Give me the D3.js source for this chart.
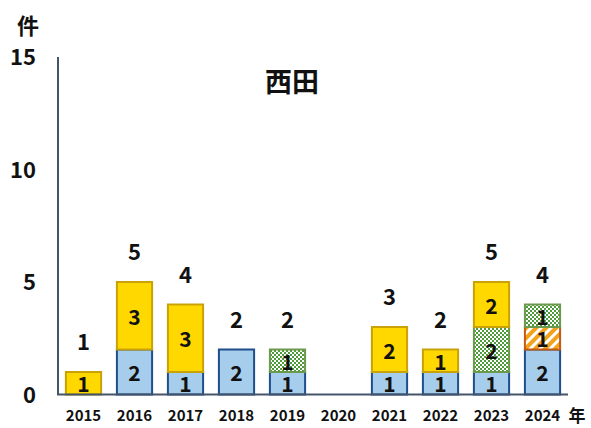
<!DOCTYPE html>
<html><head><meta charset="utf-8">
<script src="https://cdn.jsdelivr.net/npm/d3@7"></script>
<style>body{margin:0;background:#fff}svg{display:block}text{font-family:"Noto Sans CJK JP","Noto Sans",sans-serif;font-weight:bold;fill:#111}</style>
</head><body><svg id="c" width="591" height="428"></svg>
<script>
const years = ["2015","2016","2017","2018","2019","2020","2021","2022","2023","2024"];
const blue   = [0,2,1,2,1,0,1,1,1,2];
const orange = [0,0,0,0,0,0,0,0,0,1];
const green  = [0,0,0,0,1,0,0,0,2,1];
const yellow = [1,3,3,0,0,0,2,1,2,0];
const yTicks = [0,5,10,15];
const title = "西田";

const svg = d3.select("#c");
const defs = svg.append("defs");
const chk = defs.append("pattern").attr("id","chk").attr("width",4).attr("height",4).attr("patternUnits","userSpaceOnUse");
chk.append("rect").attr("width",4).attr("height",4).attr("fill","#fff");
chk.append("rect").attr("width",2).attr("height",2).attr("fill","#4f9a3a");
chk.append("rect").attr("x",2).attr("y",2).attr("width",2).attr("height",2).attr("fill","#4f9a3a");
const str = defs.append("pattern").attr("id","str").attr("width",7).attr("height",7).attr("patternUnits","userSpaceOnUse").attr("patternTransform","rotate(45)");
str.append("rect").attr("width",7).attr("height",7).attr("fill","#fff");
str.append("rect").attr("width",4).attr("height",7).attr("fill","#f2a21c");

const series = [
  {key:"blue", vals:blue, fill:"#a7cdec", stroke:"#1f4e8a"},
  {key:"orange", vals:orange, fill:"url(#str)", stroke:"#c55a11"},
  {key:"green", vals:green, fill:"url(#chk)", stroke:"#6c9a4c"},
  {key:"yellow", vals:yellow, fill:"#ffd800", stroke:"#c9a208"}
];
const rows = years.map((y,i)=>{const o={year:y}; series.forEach(s=>o[s.key]=s.vals[i]); return o;});
const stacked = d3.stack().keys(series.map(s=>s.key))(rows);

const x = d3.scaleBand().domain(years).range([58,568]).paddingInner(0.31).paddingOuter(0.155);
const y = d3.scaleLinear().domain([0,15]).range([394.5,57]);

svg.append("line").attr("x1",58).attr("x2",58).attr("y1",y(15)).attr("y2",y(0)).attr("stroke","#44546a").attr("stroke-width",2);

stacked.forEach((layer,li)=>{
  const s = series[li];
  const g = svg.append("g");
  layer.forEach((d,i)=>{
    if(d[1]-d[0] <= 0) return;
    g.append("rect").attr("x",x(years[i])).attr("width",x.bandwidth())
      .attr("y",y(d[1])).attr("height",y(d[0])-y(d[1]))
      .attr("fill",s.fill).attr("stroke",s.stroke).attr("stroke-width",2);
  });
});
stacked.forEach((layer,li)=>{
  layer.forEach((d,i)=>{
    if(d[1]-d[0] <= 0) return;
    svg.append("text").attr("x",x(years[i])+x.bandwidth()/2).attr("y",(y(d[0])+y(d[1]))/2)
      .attr("text-anchor","middle").attr("dominant-baseline","central").attr("font-size",21)
      .text(d[1]-d[0]);
  });
});

svg.append("line").attr("x1",57).attr("x2",568).attr("y1",y(0)).attr("y2",y(0)).attr("stroke","#44546a").attr("stroke-width",2);

years.forEach((yr,i)=>{
  const t = series.reduce((a,s)=>a+s.vals[i],0);
  if(!t) return;
  svg.append("text").attr("x",x(yr)+x.bandwidth()/2).attr("y",y(t)-32)
    .attr("text-anchor","middle").attr("dominant-baseline","central").attr("font-size",22).text(t);
});

yTicks.forEach(t=>{
  svg.append("text").attr("x",36).attr("y",y(t)-2).attr("text-anchor","end").attr("dominant-baseline","central").attr("font-size",22).text(t);
});
years.forEach(yr=>{
  svg.append("text").attr("x",x(yr)+x.bandwidth()/2).attr("y",414).attr("text-anchor","middle").attr("dominant-baseline","central").attr("font-size",15).text(yr);
});
svg.append("text").attr("x",577).attr("y",414).attr("text-anchor","middle").attr("dominant-baseline","central").attr("font-size",17).text("年");
svg.append("text").attr("x",28).attr("y",24).attr("text-anchor","middle").attr("dominant-baseline","central").attr("font-size",22).text("件");
svg.append("text").attr("x",292).attr("y",80).attr("text-anchor","middle").attr("dominant-baseline","central").attr("font-size",27).text(title);
</script></body></html>
